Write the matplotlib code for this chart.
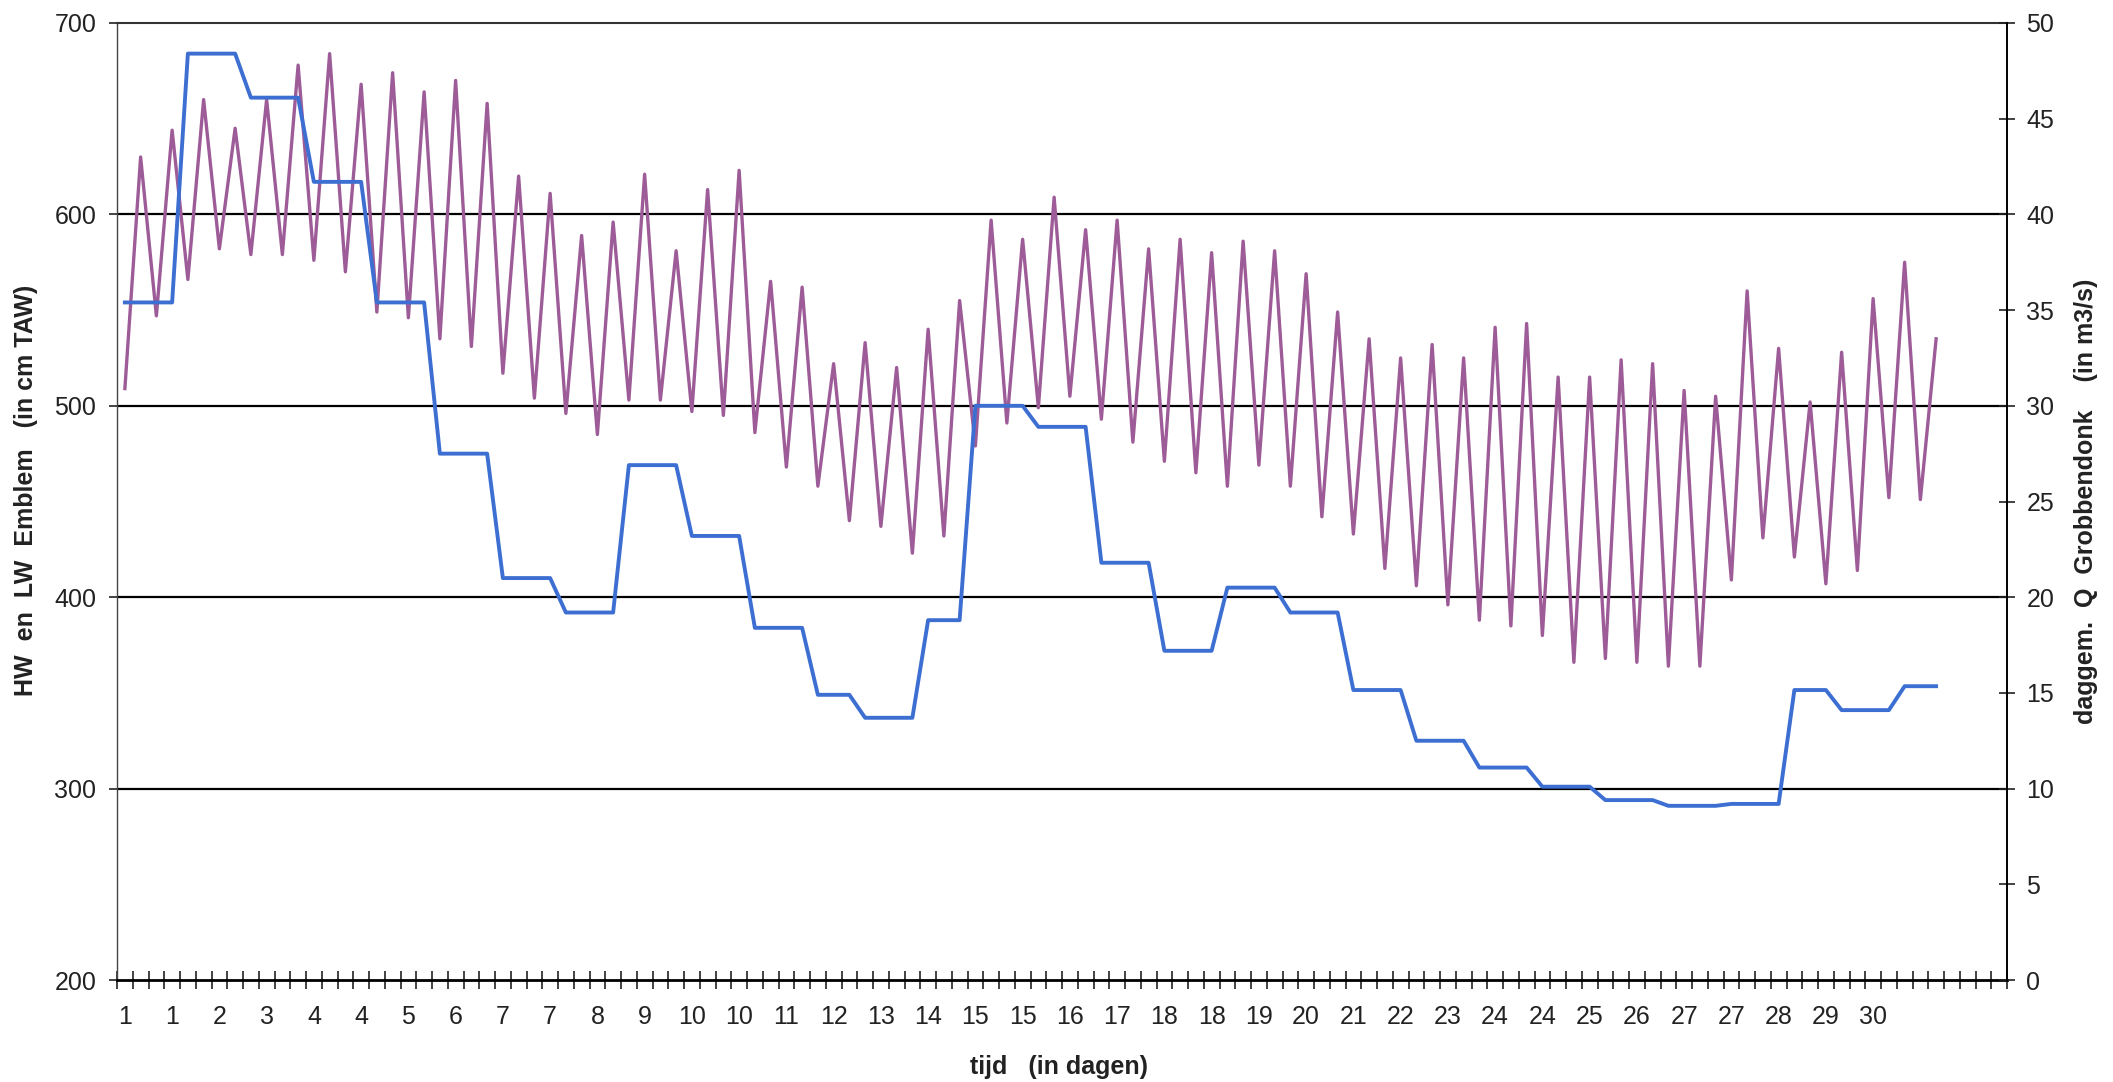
import numpy as np
import matplotlib.pyplot as plt

plt.rcParams['font.family'] = ['Liberation Sans', 'DejaVu Sans']

# HW / LW Emblem (cm TAW), alternating high and low water
hw_lw = [509, 630, 547, 644, 566, 660, 582, 645, 579, 660,
         579, 678, 576, 684, 570, 668, 549, 674, 546, 664,
         535, 670, 531, 658, 517, 620, 504, 611, 496, 589,
         485, 596, 503, 621, 503, 581, 497, 613, 495, 623,
         486, 565, 468, 562, 458, 522, 440, 533, 437, 520,
         423, 540, 432, 555, 479, 597, 491, 587, 499, 609,
         505, 592, 493, 597, 481, 582, 471, 587, 465, 580,
         458, 586, 469, 581, 458, 569, 442, 549, 433, 535,
         415, 525, 406, 532, 396, 525, 388, 541, 385, 543,
         380, 515, 366, 515, 368, 524, 366, 522, 364, 508,
         364, 505, 409, 560, 431, 530, 421, 502, 407, 528,
         414, 556, 452, 575, 451, 535]

# daily mean discharge at Grobbendonk (m3/s) and how many tides fall in each day
q_daily = [35.4, 48.4, 46.1, 41.7, 35.4, 27.5, 21.0, 19.2, 26.9, 23.2,
           18.4, 14.9, 13.7, 18.8, 30.0, 28.9, 21.8, 17.2, 20.5, 19.2,
           15.15, 12.5, 11.1, 10.1, 9.4, 9.1, 9.2, 15.15, 14.1, 15.35]
tides_per_day = [4, 4, 4, 4, 4, 4, 4, 4, 4, 4,
                 4, 3, 4, 3, 4, 4, 4, 4, 4, 4,
                 4, 4, 4, 4, 4, 4, 4, 3, 4, 3]

# category labels (every third tide)
day_labels = ['1', '1', '2', '3', '4', '4', '5', '6', '7', '7',
              '8', '9', '10', '10', '11', '12', '13', '14', '15', '15',
              '16', '17', '18', '18', '19', '20', '21', '22', '23', '24',
              '24', '25', '26', '27', '27', '28', '29', '30']
n_categories = 120

q = np.repeat(q_daily, tides_per_day)
x = np.arange(len(hw_lw))

W, H = 2113, 1082
fig = plt.figure(figsize=(W / 100, H / 100), dpi=100)
ax = fig.add_axes([117 / W, (H - 980) / H, (2007 - 117) / W, (980 - 23) / H])
ax2 = ax.twinx()

ax.plot(x, hw_lw, color='#9d5c98', lw=2.4, zorder=3)
ax2.plot(x, q, color='#3d6fd2', lw=2.8, zorder=3)

ax.set_xlim(-0.5, n_categories - 0.5)
ax.set_ylim(200, 700)
ax2.set_ylim(0, 50)

# gridlines
for v in [300, 400, 500, 600]:
    ax.axhline(v, color='black', lw=1.6, zorder=1)

# x axis: labels on category centres, cross ticks between categories
ax.set_xticks(np.arange(0, 3 * len(day_labels), 3))
ax.set_xticklabels(day_labels)
ax.set_xticks(np.arange(-0.5, n_categories, 1), minor=True)
ax.tick_params(axis='x', which='major', length=0, pad=18, labelsize=18, colors='#222222')
ax.tick_params(axis='x', which='minor', direction='inout', length=13, width=1.2, color='#222222')

ax.set_yticks(np.arange(200, 701, 100))
ax.tick_params(axis='y', direction='out', length=6, width=1.2, pad=9, labelsize=18,
               colors='#222222')
ax2.set_yticks(np.arange(0, 51, 5))
ax2.tick_params(axis='y', direction='inout', length=12, width=1.2, pad=8, labelsize=18,
                colors='#222222')

for s in ['left', 'top', 'bottom', 'right']:
    ax2.spines[s].set_visible(False)
ax2.spines['right'].set_visible(True)
ax2.spines['right'].set_linewidth(1.4)
ax.spines['right'].set_visible(False)
ax.spines['left'].set_linewidth(1.0)
ax.spines['left'].set_color('#444444')
ax.spines['top'].set_linewidth(1.5)
ax.spines['top'].set_color('#333333')
ax.spines['bottom'].set_linewidth(2.0)

fig.text(1059 / W, 1 - 1067 / H, 'tijd   (in dagen)', ha='center', va='center',
         fontsize=18, fontweight='bold', color='#222222')
fig.text(26 / W, 1 - 490 / H, 'HW  en  LW  Emblem   (in cm TAW)', rotation=90,
         ha='center', va='center', fontsize=18, fontweight='bold', color='#222222')
fig.text(2086 / W, 1 - 501 / H, 'daggem.  Q  Grobbendonk    (in m3/s)', rotation=90,
         ha='center', va='center', fontsize=18, fontweight='bold', color='#222222')

fig.savefig('out.png', dpi=100)
